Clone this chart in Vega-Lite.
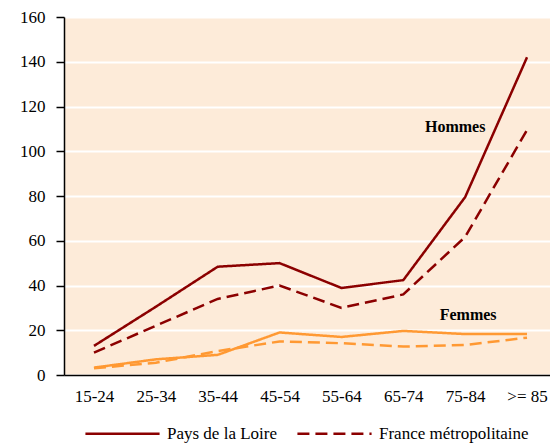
{
  "$schema": "https://vega.github.io/schema/vega-lite/v6.json",
  "width": 486,
  "height": 358,
  "autosize": {"type": "none"},
  "padding": {"left": 64, "top": 17, "right": 0, "bottom": 70},
  "background": "white",
  "config": {
    "view": {"fill": "#FDEBD9", "stroke": null},
    "font": "Liberation Serif",
    "axis": {"labelFont": "Liberation Serif", "labelFontSize": 17, "labelColor": "#000000", "domainColor": "#000000", "tickColor": "#000000"},
    "legend": {"labelFont": "Liberation Serif", "labelFontSize": 17, "labelColor": "#000000"}
  },
  "datasets": {
    "lines": [
      {"age": "15-24", "sexe": "Hommes", "zone": "Pays de la Loire", "taux": 13},
      {"age": "25-34", "sexe": "Hommes", "zone": "Pays de la Loire", "taux": 30.5},
      {"age": "35-44", "sexe": "Hommes", "zone": "Pays de la Loire", "taux": 48.4},
      {"age": "45-54", "sexe": "Hommes", "zone": "Pays de la Loire", "taux": 50},
      {"age": "55-64", "sexe": "Hommes", "zone": "Pays de la Loire", "taux": 38.9},
      {"age": "65-74", "sexe": "Hommes", "zone": "Pays de la Loire", "taux": 42.4},
      {"age": "75-84", "sexe": "Hommes", "zone": "Pays de la Loire", "taux": 79.5},
      {"age": ">= 85", "sexe": "Hommes", "zone": "Pays de la Loire", "taux": 142},
      {"age": "15-24", "sexe": "Hommes", "zone": "France métropolitaine", "taux": 10},
      {"age": "25-34", "sexe": "Hommes", "zone": "France métropolitaine", "taux": 22},
      {"age": "35-44", "sexe": "Hommes", "zone": "France métropolitaine", "taux": 34},
      {"age": "45-54", "sexe": "Hommes", "zone": "France métropolitaine", "taux": 40},
      {"age": "55-64", "sexe": "Hommes", "zone": "France métropolitaine", "taux": 30},
      {"age": "65-74", "sexe": "Hommes", "zone": "France métropolitaine", "taux": 36},
      {"age": "75-84", "sexe": "Hommes", "zone": "France métropolitaine", "taux": 61.7},
      {"age": ">= 85", "sexe": "Hommes", "zone": "France métropolitaine", "taux": 109.5},
      {"age": "15-24", "sexe": "Femmes", "zone": "Pays de la Loire", "taux": 3.3},
      {"age": "25-34", "sexe": "Femmes", "zone": "Pays de la Loire", "taux": 7},
      {"age": "35-44", "sexe": "Femmes", "zone": "Pays de la Loire", "taux": 9},
      {"age": "45-54", "sexe": "Femmes", "zone": "Pays de la Loire", "taux": 19},
      {"age": "55-64", "sexe": "Femmes", "zone": "Pays de la Loire", "taux": 17},
      {"age": "65-74", "sexe": "Femmes", "zone": "Pays de la Loire", "taux": 19.7},
      {"age": "75-84", "sexe": "Femmes", "zone": "Pays de la Loire", "taux": 18.3},
      {"age": ">= 85", "sexe": "Femmes", "zone": "Pays de la Loire", "taux": 18.3},
      {"age": "15-24", "sexe": "Femmes", "zone": "France métropolitaine", "taux": 3},
      {"age": "25-34", "sexe": "Femmes", "zone": "France métropolitaine", "taux": 5.5},
      {"age": "35-44", "sexe": "Femmes", "zone": "France métropolitaine", "taux": 10.7},
      {"age": "45-54", "sexe": "Femmes", "zone": "France métropolitaine", "taux": 15},
      {"age": "55-64", "sexe": "Femmes", "zone": "France métropolitaine", "taux": 14.2},
      {"age": "65-74", "sexe": "Femmes", "zone": "France métropolitaine", "taux": 12.7},
      {"age": "75-84", "sexe": "Femmes", "zone": "France métropolitaine", "taux": 13.4},
      {"age": ">= 85", "sexe": "Femmes", "zone": "France métropolitaine", "taux": 16.7}
    ],
    "labels": [
      {"age": "75-84", "taux": 110.8, "label": "Hommes"},
      {"age": "75-84", "taux": 26.8, "label": "Femmes"}
    ]
  },
  "layer": [
    {
      "data": {"name": "lines"},
      "mark": {"type": "line", "strokeWidth": 2.5},
      "encoding": {
        "x": {
          "field": "age", "type": "ordinal",
          "sort": ["15-24", "25-34", "35-44", "45-54", "55-64", "65-74", "75-84", ">= 85"],
          "scale": {"type": "point", "padding": 0.428, "align": 0.566},
          "axis": {"title": null, "labelAngle": 0, "ticks": false, "labelPadding": 13, "domainWidth": 1.5, "grid": false}
        },
        "y": {
          "field": "taux", "type": "quantitative",
          "scale": {"domain": [0, 160]},
          "axis": {"title": null, "values": [0, 20, 40, 60, 80, 100, 120, 140, 160], "tickSize": 8, "tickWidth": 1.5, "labelPadding": 11, "domainWidth": 1.5, "gridColor": "#FFFFFF", "gridWidth": 2, "gridOpacity": 1}
        },
        "color": {
          "field": "sexe", "type": "nominal",
          "scale": {"domain": ["Hommes", "Femmes"], "range": ["#8B0000", "#FF9933"]},
          "legend": null
        },
        "strokeDash": {
          "field": "zone", "type": "nominal",
          "scale": {"domain": ["Pays de la Loire", "France métropolitaine"], "range": [[1, 0], [12, 6]]},
          "legend": {
            "title": null, "orient": "none", "direction": "horizontal",
            "legendX": 20, "legendY": 378,
            "symbolType": "stroke", "symbolSize": 5500, "symbolStrokeWidth": 2.5,
            "symbolStrokeColor": "#8B0000", "labelOffset": 6, "columnPadding": 15
          }
        },
        "detail": {"field": "sexe"}
      }
    },
    {
      "data": {"name": "labels"},
      "transform": [{"filter": "datum.label === 'Hommes'"}],
      "mark": {"type": "text", "fontWeight": "bold", "fontSize": 16, "font": "Liberation Serif", "color": "#000000", "dx": -10},
      "encoding": {
        "x": {"field": "age", "type": "ordinal", "sort": ["15-24", "25-34", "35-44", "45-54", "55-64", "65-74", "75-84", ">= 85"]},
        "y": {"field": "taux", "type": "quantitative"},
        "text": {"field": "label"}
      }
    },
    {
      "data": {"name": "labels"},
      "transform": [{"filter": "datum.label === 'Femmes'"}],
      "mark": {"type": "text", "fontWeight": "bold", "fontSize": 16, "font": "Liberation Serif", "color": "#000000", "dx": 3},
      "encoding": {
        "x": {"field": "age", "type": "ordinal", "sort": ["15-24", "25-34", "35-44", "45-54", "55-64", "65-74", "75-84", ">= 85"]},
        "y": {"field": "taux", "type": "quantitative"},
        "text": {"field": "label"}
      }
    }
  ]
}
